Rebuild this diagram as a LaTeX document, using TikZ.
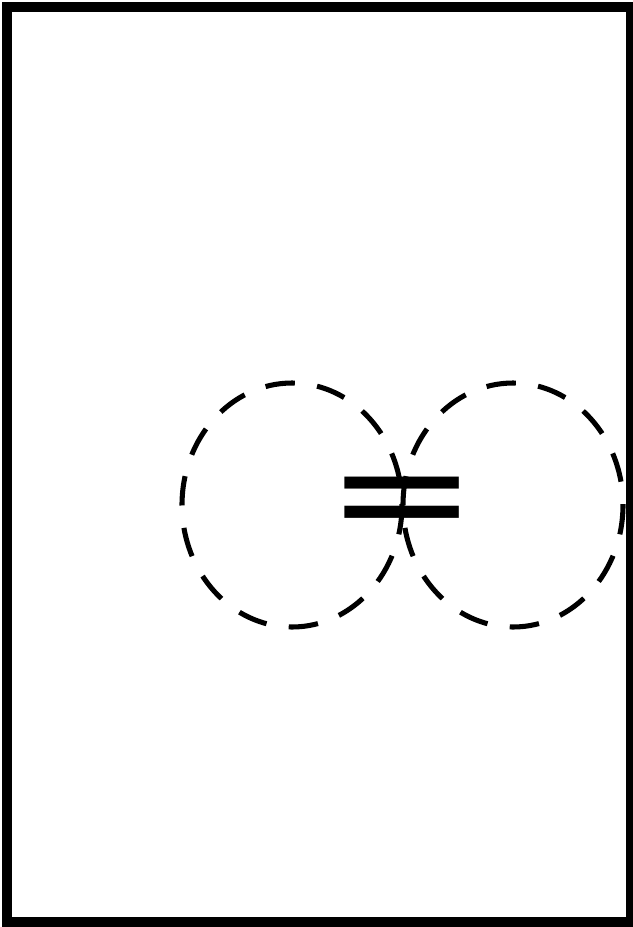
\documentclass[tikz,border=0pt]{standalone}
\usepackage{fontspec}
\newfontfamily\eqfont{DejaVu Sans}
\usepackage{tikz}
\tikzset{
  frame/.style={draw=black,line width=7.5pt,line join=miter},
  blob/.style={draw=black,line width=3.6pt,dash pattern=on 21pt off 16pt},
  eqsign/.style={inner sep=0pt,anchor=base,yscale=0.8,font=\eqfont\fontsize{130}{130}\selectfont},
}
\begin{document}
\begin{tikzpicture}[x=0.025cm,y=-0.025cm]
  \useasboundingbox (0,0) rectangle (632,927);
  \draw[frame] (7,7) rectangle (631,922);
  \draw[blob] (292,505) ellipse [x radius=110,y radius=122];
  \draw[blob] (513,505) ellipse [x radius=110,y radius=122];
  \node[eqsign] (eq) at (402,543) {=};
\end{tikzpicture}
\end{document}
